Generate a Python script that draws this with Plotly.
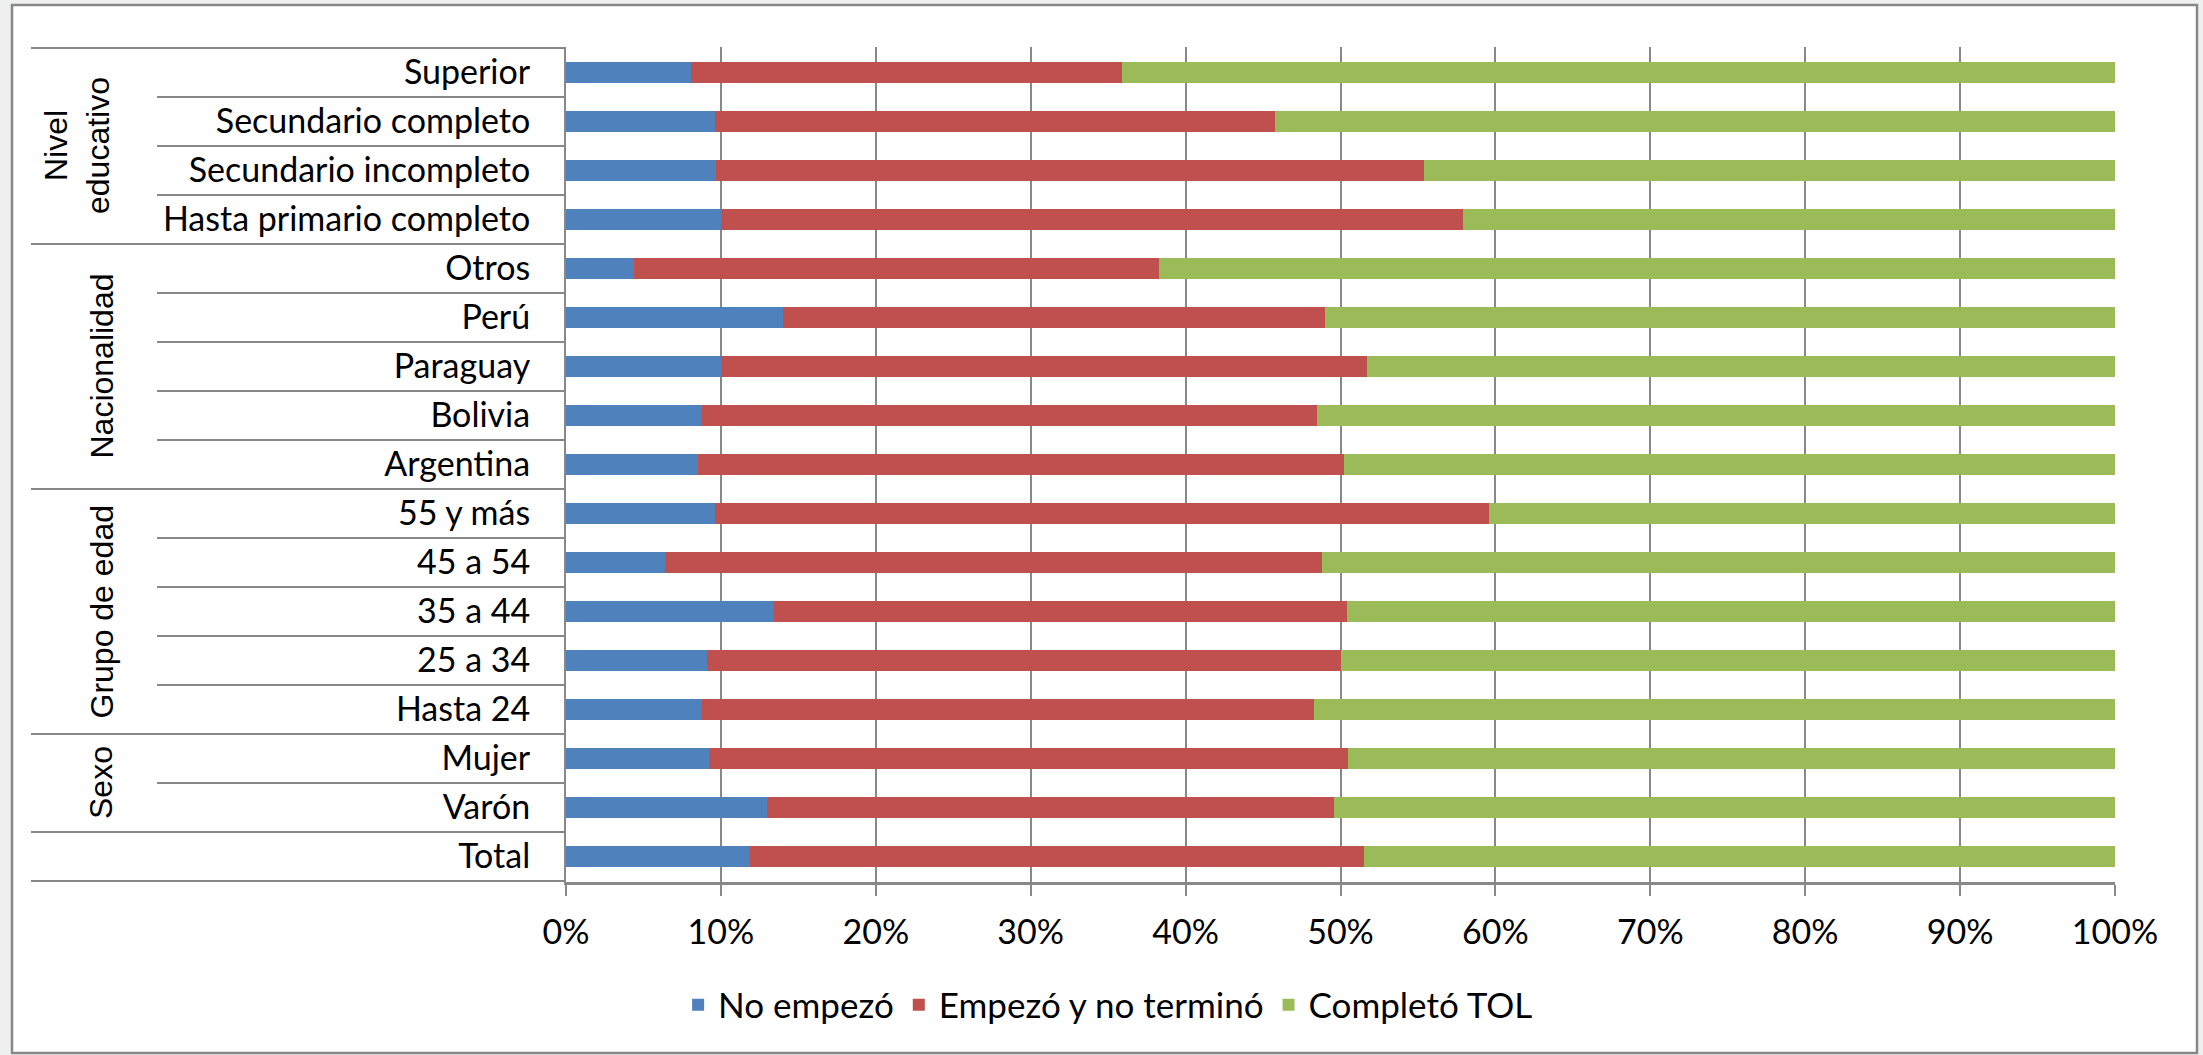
import plotly.graph_objects as go

# ---- data (percent) ----
categories = ["Superior", "Secundario completo", "Secundario incompleto", "Hasta primario completo",
              "Otros", "Perú", "Paraguay", "Bolivia", "Argentina",
              "55 y más", "45 a 54", "35 a 44", "25 a 34", "Hasta 24",
              "Mujer", "Varón", "Total"]
no_empezo = [8.1, 9.6, 9.7, 10.0, 4.4, 14.0, 10.0, 8.8, 8.5, 9.6, 6.4, 13.4, 9.1, 8.8, 9.2, 13.0, 11.9]
empezo_no_termino = [27.8, 36.2, 45.7, 47.9, 33.9, 35.0, 41.7, 39.7, 41.7, 50.0, 42.4, 37.0, 40.9, 39.5, 41.3, 36.6, 39.6]
completo_tol = [64.1, 54.2, 44.6, 42.1, 61.7, 51.0, 48.3, 51.5, 49.8, 40.4, 51.2, 49.6, 50.0, 51.7, 49.5, 50.4, 48.5]
series_names = ["No empezó", "Empezó y no terminó", "Completó TOL"]
group_names = ["Nivel<br>educativo", "Nacionalidad", "Grupo de edad", "Sexo", ""]
group_sizes = [4, 5, 5, 2, 1]
x_ticks = [0, 10, 20, 30, 40, 50, 60, 70, 80, 90, 100]
x_tick_labels = ["0%", "10%", "20%", "30%", "40%", "50%", "60%", "70%", "80%", "90%", "100%"]

colors = ["#4F81BD", "#C0504D", "#9BBB59"]
W, H = 2203, 1055
L, R, T, B = 566, 2115, 47, 882  # plot area in px
GRAY = "#888888"
CAT_FONT = "Lato, Carlito, sans-serif"


def px_x(p):
    return (p - L) / (R - L)


def px_y(p):
    return (B - p) / (B - T)


fig = go.Figure()
for name, vals, c in zip(series_names, [no_empezo, empezo_no_termino, completo_tol], colors):
    fig.add_trace(go.Bar(y=categories, x=vals, name=name, orientation="h",
                         marker=dict(color=c, line=dict(width=0)),
                         hoverinfo="x+y+name"))

shapes = []
# outer chart border
shapes.append(dict(type="rect", xref="paper", yref="paper",
                   x0=px_x(12), x1=px_x(2197), y0=px_y(1053), y1=px_y(5),
                   line=dict(color=GRAY, width=2.5), fillcolor="white", layer="below"))
# table lines
idx = 0
bounds_group = [-0.5]
for s in group_sizes:
    idx += s
    bounds_group.append(idx - 0.5)
for b in bounds_group:
    shapes.append(dict(type="line", xref="paper", yref="y", x0=px_x(31), x1=0, y0=b, y1=b,
                       line=dict(color=GRAY, width=2)))
for k in range(len(categories)):
    b = k - 0.5
    if b not in bounds_group:
        shapes.append(dict(type="line", xref="paper", yref="y", x0=px_x(157), x1=0, y0=b, y1=b,
                           line=dict(color=GRAY, width=2)))

annotations = []
start = 0
for g, s in zip(group_names, group_sizes):
    if g:
        center = start + (s - 1) / 2
        xpos = px_x(77) if "<br>" in g else px_x(101)
        annotations.append(dict(text=g, xref="paper", yref="y", x=xpos, y=center,
                                textangle=-90, showarrow=False, xanchor="center", yanchor="middle",
                                font=dict(family="Liberation Sans, Arial, sans-serif", size=32, color="black")))
    start += s

fig.update_layout(
    width=W, height=H,
    margin=dict(l=L, r=W - R, t=T, b=H - B, autoexpand=False),
    barmode="stack", bargap=0.59,
    paper_bgcolor="#eff0f0", plot_bgcolor="white",
    font=dict(family=CAT_FONT, size=34, color="black"),
    shapes=shapes, annotations=annotations,
    legend=dict(orientation="h", xref="container", yref="container", x=0.503, y=1 - 1005 / H,
                xanchor="center", yanchor="middle", font=dict(family=CAT_FONT, size=35),
                bgcolor="rgba(0,0,0,0)", traceorder="normal", itemwidth=30),
    xaxis=dict(range=[0, 100], tickmode="array", tickvals=x_ticks, ticktext=x_tick_labels,
               showgrid=True, gridcolor=GRAY, gridwidth=2, showline=True, linecolor=GRAY, linewidth=2.5,
               ticks="outside", ticklen=11, tickwidth=2, tickcolor=GRAY, zeroline=False,
               ticklabelstandoff=7, tickfont=dict(family=CAT_FONT, size=34)),
    yaxis=dict(categoryorder="array", categoryarray=categories, autorange="reversed",
               showline=True, linecolor=GRAY, linewidth=2, ticks="", showgrid=False,
               ticklabelstandoff=27, tickfont=dict(family=CAT_FONT, size=34)),
)

fig.write_html("out.html")
